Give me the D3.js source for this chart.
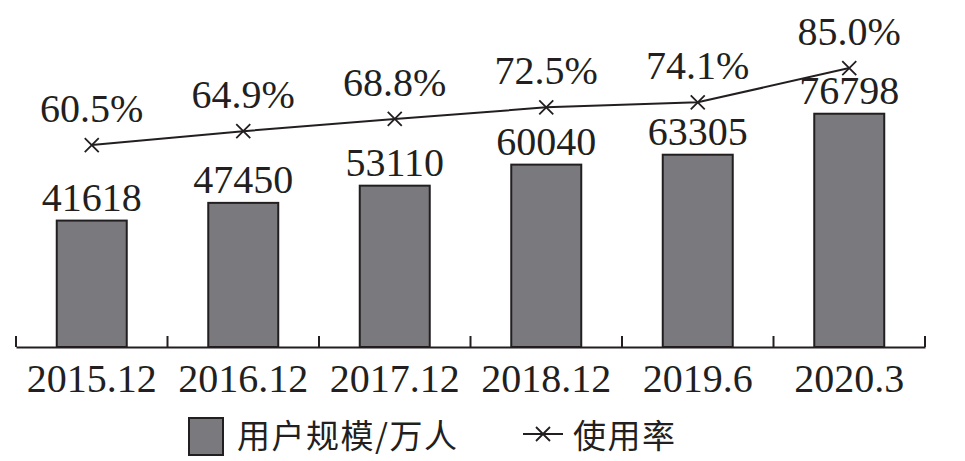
<!DOCTYPE html>
<html><head><meta charset="utf-8">
<script src="https://cdn.jsdelivr.net/npm/d3@7"></script>
<style>body{margin:0;background:#fff}svg{display:block}</style>
</head><body>
<svg id="c" width="965" height="461"></svg>
<script>
const categories = ["2015.12","2016.12","2017.12","2018.12","2019.6","2020.3"];
const users = [41618, 47450, 53110, 60040, 63305, 76798];
const rates = [60.5, 64.9, 68.8, 72.5, 74.1, 85.0];
const legendLabels = ["用户规模/万人", "使用率"];

const ink = "#231f20", barFill = "#7a797e";
const serif = "'Liberation Serif','Times New Roman',serif";
const cjk = "'Noto Sans CJK SC',sans-serif";
const svg = d3.select("#c");

const x = d3.scaleBand().domain(categories).range([16, 925]).paddingInner(0.538).paddingOuter(0.269);
const y = d3.scaleLinear().domain([0, 80000]).range([347, 104]);
const y2 = d3.scaleLinear().domain([0, 100]).range([335, 21]);

// bars
svg.append("g").selectAll("rect").data(users).join("rect")
  .attr("x", (d,i) => x(categories[i]))
  .attr("y", d => y(d))
  .attr("width", x.bandwidth())
  .attr("height", d => y(0) - y(d))
  .attr("fill", barFill).attr("stroke", ink).attr("stroke-width", 2);

// axis
const ax = svg.append("g").attr("transform", `translate(0,${y(0)})`)
  .call(d3.axisBottom(x).tickSize(0).tickSizeOuter(0));
ax.select(".domain").attr("stroke", ink).attr("stroke-width", 2);
ax.selectAll("text").attr("dy", null).attr("y", 45)
  .attr("font-family", serif).attr("font-size", 40).attr("fill", ink);

// boundary ticks
const step = x.step();
const tickXs = categories.map(c => x(c) - step * x.paddingInner() / 2).concat([x.range()[1]]);
svg.append("g").selectAll("line").data(tickXs).join("line")
  .attr("x1", d => d).attr("x2", d => d)
  .attr("y1", y(0) - 11).attr("y2", y(0))
  .attr("stroke", ink).attr("stroke-width", 2);

// bar labels
svg.append("g").selectAll("text").data(users).join("text")
  .attr("x", (d,i) => x(categories[i]) + x.bandwidth()/2)
  .attr("y", d => y(d) - 10)
  .attr("text-anchor", "middle")
  .attr("font-family", serif).attr("font-size", 40).attr("fill", ink)
  .text(d => d);

// line
const cx = i => x(categories[i]) + x.bandwidth()/2;
svg.append("path").datum(rates)
  .attr("d", d3.line().x((d,i) => cx(i)).y(d => y2(d)))
  .attr("fill", "none").attr("stroke", ink).attr("stroke-width", 2);

const cross = (g, X, Y, s) => {
  g.append("path").attr("d", `M${X-s},${Y-s}L${X+s},${Y+s}M${X-s},${Y+s}L${X+s},${Y-s}`)
    .attr("stroke", ink).attr("stroke-width", 1.8).attr("fill", "none");
};
const mk = svg.append("g");
rates.forEach((d,i) => cross(mk, cx(i), y2(d), 7));

svg.append("g").selectAll("text").data(rates).join("text")
  .attr("x", (d,i) => cx(i))
  .attr("y", d => y2(d) - 23)
  .attr("text-anchor", "middle")
  .attr("font-family", serif).attr("font-size", 40).attr("fill", ink)
  .text(d => d.toFixed(1) + "%");

// legend
const lg = svg.append("g");
lg.append("rect").attr("x", 189).attr("y", 418).attr("width", 34).attr("height", 37)
  .attr("fill", barFill).attr("stroke", ink).attr("stroke-width", 2);
lg.append("text").attr("x", 237).attr("y", 448)
  .attr("font-family", cjk).attr("font-size", 33).attr("letter-spacing", 1.5).attr("fill", ink)
  .text(legendLabels[0]);
lg.append("line").attr("x1", 523).attr("x2", 563).attr("y1", 434).attr("y2", 434)
  .attr("stroke", ink).attr("stroke-width", 2);
cross(lg, 543, 434, 7);
lg.append("text").attr("x", 573).attr("y", 448)
  .attr("font-family", cjk).attr("font-size", 33).attr("letter-spacing", 1.5).attr("fill", ink)
  .text(legendLabels[1]);
</script>
</body></html>
